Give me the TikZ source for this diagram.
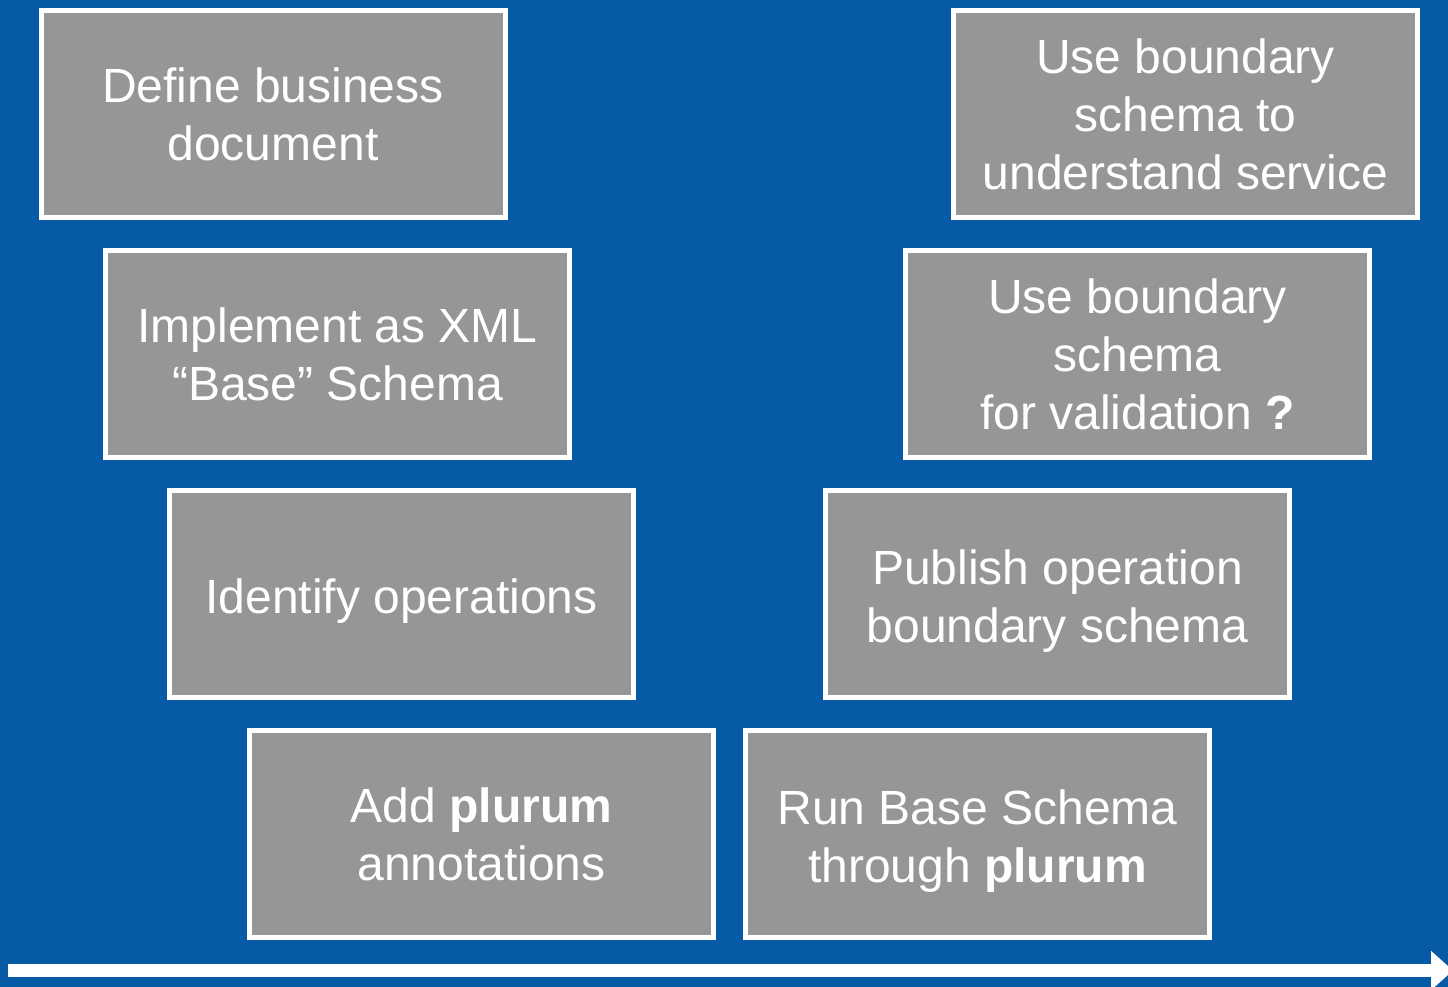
\documentclass[tikz,border=0pt]{standalone}
\usepackage{fontspec}
\setmainfont{Liberation Sans}
\usetikzlibrary{arrows.meta}
\definecolor{bgblue}{HTML}{075AA6}
\definecolor{boxgray}{HTML}{969696}
\newcommand{\dropline}{\rule{0pt}{48pt}}
\tikzset{
  stepbox/.style={draw=white, line width=5pt, fill=boxgray, minimum width=464pt, minimum height=207pt,
    inner sep=0pt, align=center, text=white, font=\fontsize{48pt}{58pt}\selectfont},
  timeline/.style={draw=white, line width=13pt, -{Triangle[length=22pt,width=38pt]}}
}
\begin{document}
\begin{tikzpicture}[x=1pt,y=-1pt]
\fill[bgblue] (0,0) rectangle (1448,987);
\useasboundingbox (0,0) rectangle (1448,987);
\node[stepbox] (b1) at (273,114) {Define business\\document};
\node[stepbox] (b2) at (337.5,354) {Implement as XML\\“Base” Schema};
\node[stepbox] (b3) at (401.5,594) {\dropline Identify operations};
\node[stepbox] (b4) at (481.5,834) {Add \textbf{plurum}\\annotations};
\node[stepbox] (b5) at (977.5,834) {\dropline Run Base Schema\\through \textbf{plurum}};
\node[stepbox] (b6) at (1057.5,594) {\dropline Publish operation\\boundary schema};
\node[stepbox] (b7) at (1137.5,354) {Use boundary\\schema\\for validation \textbf{?}};
\node[stepbox] (b8) at (1185.5,114) {Use boundary\\schema to\\understand service};
\coordinate (tstart) at (8,970.5);
\coordinate (tend) at (1453,970.5);
\draw[timeline] (tstart) -- (tend);
\end{tikzpicture}
\end{document}
